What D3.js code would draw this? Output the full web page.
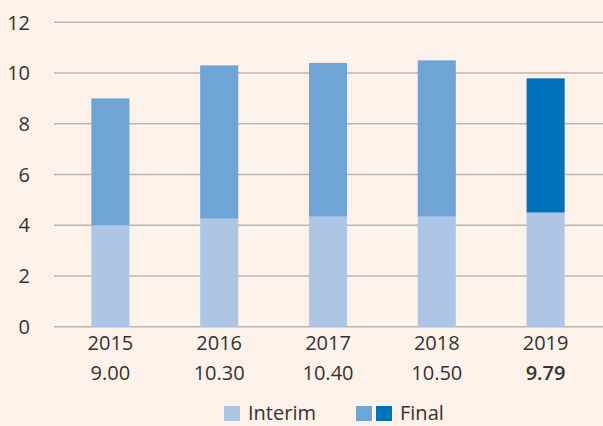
<!DOCTYPE html>
<html>
<head>
<meta charset="utf-8">
<script src="https://cdn.jsdelivr.net/npm/d3@7"></script>
<style>
  html, body { margin: 0; padding: 0; background: #fdf2ea; }
  svg { display: block; font-family: "Open Sans", Lato, sans-serif; }
</style>
</head>
<body>
<div id="chart"></div>
<script>
const years = ["2015", "2016", "2017", "2018", "2019"];
const interim = [4.00, 4.26, 4.34, 4.34, 4.50];
const finalPart = [5.00, 6.04, 6.06, 6.16, 5.29];
const totals = ["9.00", "10.30", "10.40", "10.50", "9.79"];
const yTicks = [0, 2, 4, 6, 8, 10, 12];

const width = 603, height = 426;
const margin = { top: 22, right: 0, bottom: 99, left: 54 };

const svg = d3.select("#chart")
  .append("svg")
  .attr("width", width)
  .attr("height", height);

const x = d3.scaleBand()
  .domain(years)
  .range([margin.left + 2, width - 3])
  .paddingInner(0.65)
  .paddingOuter(0.325);

const y = d3.scaleLinear()
  .domain([0, 12])
  .range([height - margin.bottom - 0.3, margin.top + 0.3]);

// gridlines
svg.append("g")
  .selectAll("line")
  .data(yTicks)
  .join("line")
  .attr("x1", margin.left)
  .attr("x2", width)
  .attr("y1", d => y(d))
  .attr("y2", d => y(d))
  .attr("stroke", "#bcb6b3")
  .attr("stroke-width", 1.5);

// y labels
svg.append("g")
  .selectAll("text")
  .data(yTicks)
  .join("text")
  .attr("x", 30)
  .attr("y", d => y(d))
  .attr("dy", "0.36em")
  .attr("text-anchor", "end")
  .attr("fill", "#333")
  .style("font-size", "20px")
  .text(d => d);

// bars
const bars = svg.append("g");
bars.selectAll(".interim")
  .data(years)
  .join("rect")
  .attr("x", d => x(d))
  .attr("width", x.bandwidth())
  .attr("y", (d, i) => y(interim[i]))
  .attr("height", (d, i) => y(0) - y(interim[i]))
  .attr("fill", "#adc6e5");

bars.selectAll(".final")
  .data(years)
  .join("rect")
  .attr("x", d => x(d))
  .attr("width", x.bandwidth())
  .attr("y", (d, i) => y(interim[i] + finalPart[i]))
  .attr("height", (d, i) => y(interim[i]) - y(interim[i] + finalPart[i]))
  .attr("fill", (d, i) => i === years.length - 1 ? "#0072bb" : "#6fa4d6");

// x labels
const xl = svg.append("g");
xl.selectAll("text.year")
  .data(years)
  .join("text")
  .attr("x", d => x(d) + x.bandwidth() / 2)
  .attr("y", 350)
  .attr("text-anchor", "middle")
  .attr("fill", "#333")
  .style("font-size", "20px")
  .text(d => d);

xl.selectAll("text.total")
  .data(years)
  .join("text")
  .attr("x", d => x(d) + x.bandwidth() / 2)
  .attr("y", 380)
  .attr("text-anchor", "middle")
  .attr("fill", "#333")
  .style("font-size", "20px")
  .style("font-weight", (d, i) => i === years.length - 1 ? "600" : "400")
  .text((d, i) => totals[i]);

// legend
const legend = svg.append("g");
legend.append("rect").attr("x", 224).attr("y", 406).attr("width", 16).attr("height", 15).attr("fill", "#adc6e5");
legend.append("text").attr("x", 248).attr("y", 420).attr("fill", "#333").style("font-size", "20px").text("Interim");
legend.append("rect").attr("x", 356).attr("y", 406).attr("width", 16).attr("height", 15).attr("fill", "#6fa4d6");
legend.append("rect").attr("x", 376).attr("y", 406).attr("width", 16).attr("height", 15).attr("fill", "#0072bb");
legend.append("text").attr("x", 400).attr("y", 420).attr("fill", "#333").style("font-size", "20px").text("Final");
</script>
</body>
</html>
